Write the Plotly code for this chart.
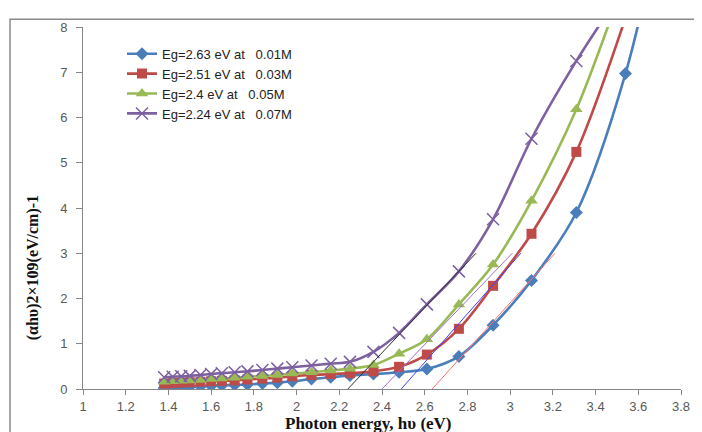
import plotly.graph_objects as go

# ---- data ----
energy = [1.38, 1.42, 1.46, 1.50, 1.55, 1.60, 1.65, 1.71, 1.77, 1.84, 1.91, 1.98,
          2.07, 2.16, 2.25, 2.36, 2.48, 2.61, 2.76, 2.92, 3.10, 3.31, 3.54, 3.76]

y_001M = [0.02, 0.03, 0.04, 0.05, 0.06, 0.07, 0.08, 0.09, 0.10, 0.12, 0.14, 0.17,
          0.22, 0.26, 0.30, 0.33, 0.37, 0.44, 0.72, 1.41, 2.40, 3.90, 6.97, 11.5]
y_003M = [0.12, 0.13, 0.14, 0.15, 0.16, 0.17, 0.18, 0.19, 0.21, 0.23, 0.25, 0.28,
          0.31, 0.33, 0.35, 0.39, 0.49, 0.76, 1.33, 2.28, 3.43, 5.24, 8.2, None]
y_005M = [0.16, 0.17, 0.18, 0.19, 0.20, 0.22, 0.23, 0.25, 0.27, 0.29, 0.31, 0.34,
          0.37, 0.41, 0.45, 0.53, 0.78, 1.10, 1.87, 2.75, 4.16, 6.18, 9.1, None]
y_007M = [0.26, 0.27, 0.28, 0.29, 0.31, 0.33, 0.35, 0.37, 0.39, 0.42, 0.45, 0.48,
          0.52, 0.56, 0.60, 0.82, 1.24, 1.87, 2.60, 3.75, 5.53, 7.25, 8.9, None]

series_names = ["Eg=2.63 eV at\u00a0\u00a0 0.01M",
                "Eg=2.51 eV at\u00a0\u00a0 0.03M",
                "Eg=2.4 eV at\u00a0\u00a0 0.05M",
                "Eg=2.24 eV at\u00a0\u00a0 0.07M"]

# extrapolation (Tauc) lines: x-intercept and end point
tauc_x_start = [2.635, 2.49, 2.40, 2.24]
tauc_x_end = [3.21, 3.05, 3.01, 2.84]
tauc_y_end = [3.0, 3.0, 3.0, 3.0]

x_ticks = [1, 1.2, 1.4, 1.6, 1.8, 2, 2.2, 2.4, 2.6, 2.8, 3, 3.2, 3.4, 3.6, 3.8]
x_ticktext = ["1", "1.2", "1.4", "1.6", "1.8", "2", "2.2", "2.4", "2.6", "2.8",
              "3", "3.2", "3.4", "3.6", "3.8"]

# ---- styles ----
colors = ["#4A7EBB", "#BE4B48", "#98B954", "#7D60A0"]
tauc_colors = ["#FF6F6F", "#4040FF", "#A070D0", "#303030"]

fig = go.Figure()

series = [y_001M, y_003M, y_005M, y_007M]
markers = [
    dict(symbol="diamond", size=10, color=colors[0]),
    dict(symbol="square", size=10, color=colors[1]),
    dict(symbol="triangle-up", size=11, color=colors[2]),
    dict(symbol="x-thin", size=12, color=colors[3], line=dict(color=colors[3], width=1.5)),
]

for ys, name, col, mk in zip(series, series_names, colors, markers):
    fig.add_trace(go.Scatter(
        x=energy, y=ys, name=name, mode="lines+markers",
        line=dict(color=col, width=2.6, shape="spline", smoothing=0.9),
        marker=mk, cliponaxis=True,
    ))

for xs, xe, ye, col in zip(tauc_x_start, tauc_x_end, tauc_y_end, tauc_colors):
    fig.add_trace(go.Scatter(
        x=[xs, xe], y=[0, ye], mode="lines", showlegend=False,
        line=dict(color=col, width=1), hoverinfo="skip",
    ))

# the page body adds an 8px offset; size the figure so it fills the 702x432 window
OFF = 8
W, H = 702 - OFF, 432 - OFF
L, T = 83 - OFF, 20 - OFF
R = 702 - 681
B = 432 - 389
pw, ph = W - L - R, H - T - B

def px_to_paper_x(px):  # px in window coordinates
    return (px - OFF - L) / pw

def px_to_paper_y(py):
    return (H - B - (py - OFF)) / ph

axis_color = "#868686"
tick_font = dict(family="Liberation Sans, Arial, sans-serif", size=13, color="#595959")

fig.update_layout(
    width=W, height=H,
    margin=dict(l=L, r=R, t=T, b=B),
    paper_bgcolor="white", plot_bgcolor="white",
    showlegend=True,
    legend=dict(
        x=px_to_paper_x(122), y=px_to_paper_y(32), xanchor="left", yanchor="top",
        bgcolor="rgba(0,0,0,0)", borderwidth=0,
        font=dict(family="Liberation Sans, Arial, sans-serif", size=13, color="#222222"),
        tracegroupgap=0, itemsizing="trace",
    ),
    xaxis=dict(
        range=[1, 3.8], tickvals=x_ticks, ticktext=x_ticktext,
        showgrid=False, zeroline=False, showline=True, linecolor=axis_color, linewidth=1,
        ticks="outside", ticklen=5, tickcolor=axis_color, tickfont=tick_font,
    ),
    yaxis=dict(
        range=[0, 8], dtick=1, showgrid=False, zeroline=False,
        showline=True, linecolor=axis_color, linewidth=1,
        ticks="outside", ticklen=6, tickcolor=axis_color, tickfont=tick_font,
        ticklabelstandoff=6,
    ),
    annotations=[
        dict(text="<b>Photon energy, hυ (eV)</b>", xref="paper", yref="paper",
             x=px_to_paper_x(368), y=px_to_paper_y(424), xanchor="center", yanchor="middle",
             showarrow=False,
             font=dict(family="Liberation Serif, Times New Roman, serif", size=17, color="#111111")),
        dict(text="<b>(αhυ)2×109(eV/cm)-1</b>", xref="paper", yref="paper",
             x=px_to_paper_x(33), y=px_to_paper_y(266), xanchor="center", yanchor="middle",
             textangle=-90, showarrow=False,
             font=dict(family="Liberation Serif, Times New Roman, serif", size=16, color="#111111")),
    ],
    shapes=[
        dict(type="rect", xref="paper", yref="paper",
             x0=px_to_paper_x(10), x1=px_to_paper_x(720),
             y0=px_to_paper_y(450), y1=px_to_paper_y(12),
             line=dict(color="#8A8A8A", width=1.5), fillcolor="rgba(0,0,0,0)", layer="below"),
    ],
)

fig.write_html("out.html")
